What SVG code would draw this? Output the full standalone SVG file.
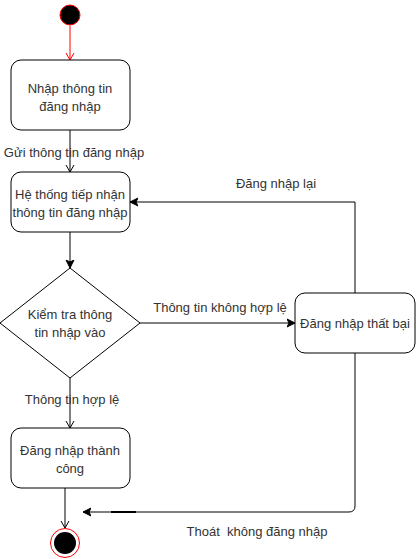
<svg xmlns="http://www.w3.org/2000/svg" width="416" height="559" viewBox="0 0 416 559">
<style>
.node{fill:#fff;stroke:#000;stroke-width:1}
.t{font-family:"Liberation Sans",Arial,sans-serif;font-size:13px;fill:#333;text-anchor:middle}
.e{fill:none;stroke:#000;stroke-width:1}
</style>
<defs>
<marker id="open" markerWidth="10" markerHeight="10" refX="8" refY="5" orient="auto" markerUnits="userSpaceOnUse">
<path d="M1,1 L8,5 L1,9" fill="none" stroke="#000" stroke-width="1"/>
</marker>
<marker id="openr" markerWidth="10" markerHeight="10" refX="8" refY="5" orient="auto" markerUnits="userSpaceOnUse">
<path d="M1,1 L8,5 L1,9" fill="none" stroke="#f00" stroke-width="1"/>
</marker>
<marker id="fill" markerWidth="10" markerHeight="10" refX="8" refY="5" orient="auto" markerUnits="userSpaceOnUse">
<path d="M0,1 L8,5 L0,9 L2,5 Z" fill="#000" stroke="#000" stroke-width="1"/>
</marker>
</defs>
<g id="connectors">
<line x1="70" y1="26" x2="70" y2="60" stroke="#f00" stroke-width="1" marker-end="url(#openr)"/>
<line class="e" x1="70" y1="130" x2="70" y2="172" marker-end="url(#open)"/>
<line class="e" x1="70" y1="232" x2="70" y2="268" marker-end="url(#fill)"/>
<line class="e" x1="140" y1="323" x2="295" y2="323" marker-end="url(#fill)"/>
<path class="e" d="M355,293 L355,202 L130,202" marker-end="url(#fill)"/>
<path class="e" d="M355,353 L355,506 Q355,512 349,512 L83,512" marker-end="url(#fill)"/>
<line x1="111" y1="512" x2="136" y2="512" stroke="#000" stroke-width="2"/>
<line class="e" x1="70" y1="378" x2="70" y2="428" marker-end="url(#open)"/>
<line class="e" x1="65" y1="488" x2="65" y2="528" marker-end="url(#open)"/>
<text class="t" x="74" y="157">Gửi thông tin đăng nhập</text>
<text class="t" x="276" y="188">Đăng nhập lại</text>
<text class="t" x="220" y="312">Thông tin không hợp lệ</text>
<text class="t" x="72" y="404">Thông tin hợp lệ</text>
<text class="t" x="257" y="536" xml:space="preserve">Thoát  không đăng nhập</text>
</g>
<g id="start"><circle cx="70" cy="15" r="10" fill="#000" stroke="#f00" stroke-width="1"/></g>
<g id="n1"><rect class="node" x="11" y="60" width="119" height="70" rx="10"/>
<text class="t" x="70" y="93">Nhập thông tin</text><text class="t" x="70" y="111">đăng nhập</text></g>
<g id="n2"><rect class="node" x="11" y="172" width="119" height="60" rx="10"/>
<text class="t" x="70" y="199">Hệ thống tiếp nhận</text><text class="t" x="70" y="217">thông tin đăng nhập</text></g>
<g id="d1"><path class="node" d="M70,268 L140,323 L70,378 L0,323 Z"/>
<text class="t" x="70" y="319">Kiểm tra thông</text><text class="t" x="70" y="337">tin nhập vào</text></g>
<g id="n3"><rect class="node" x="295" y="293" width="120" height="60" rx="10"/>
<text class="t" x="355" y="328">Đăng nhập thất bại</text></g>
<g id="n4"><rect class="node" x="11" y="428" width="119" height="60" rx="10"/>
<text class="t" x="70" y="455">Đăng nhập thành</text><text class="t" x="70" y="473">công</text></g>
<g id="end"><circle cx="65" cy="543" r="14.5" fill="#fff" stroke="#f00" stroke-width="1"/><circle cx="65" cy="543" r="11" fill="#000"/></g>
</svg>
